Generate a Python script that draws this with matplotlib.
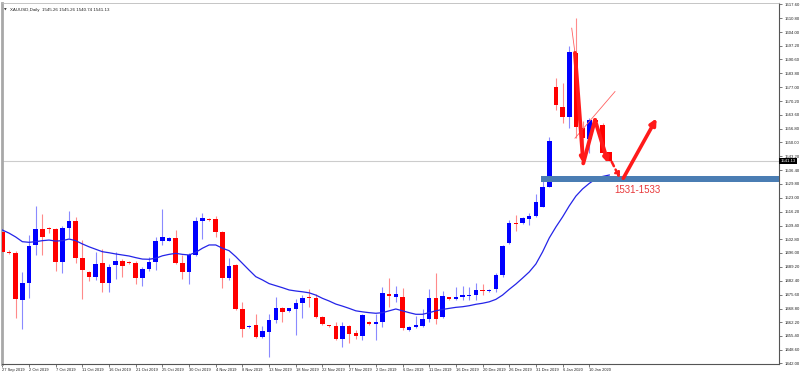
import matplotlib.pyplot as plt
from matplotlib.patches import Rectangle
import matplotlib.transforms as mtransforms

# ------------------------------------------------------------------
# Data (one bar per trading day, Sunday bars included)
# ------------------------------------------------------------------
opens = [1506.4, 1496.4, 1496.1, 1473.0, 1481.1, 1499.9, 1507.6, 1508.2, 1507.7, 1491.4,
         1508.0, 1511.6, 1493.4, 1486.5, 1484.1, 1490.9, 1481.4, 1490.1, 1492.2, 1491.6,
         1490.9, 1483.6, 1488.1, 1491.7, 1502.0, 1502.0, 1503.1, 1491.2, 1486.5, 1495.0,
         1511.8, 1512.4, 1512.4, 1506.1, 1483.9, 1489.9, 1468.4, 1460.0, 1460.7, 1455.0,
         1457.5, 1463.2, 1468.9, 1467.7, 1468.6, 1471.4, 1474.1, 1474.1, 1464.5, 1460.4,
         1460.3, 1453.8, 1460.3, 1456.7, 1455.5, 1462.4, 1461.2, 1462.4, 1475.9, 1474.6,
         1474.6, 1458.3, 1459.6, 1460.3, 1463.5, 1474.1, 1464.8, 1474.3, 1473.6, 1474.6,
         1475.1, 1475.4, 1477.7, 1477.4, 1478.2, 1485.2, 1500.7, 1510.6, 1510.5, 1512.6,
         1514.1, 1518.6, 1528.4, 1577.0, 1567.5, 1562.6, 1593.6, 1557.0, 1551.6, 1561.0,
         1558.6, 1545.26]
highs = [1508.2, 1497.4, 1496.9, 1486.8, 1504.8, 1518.9, 1515.0, 1508.7, 1508.2, 1509.2,
         1516.6, 1513.7, 1502.3, 1487.2, 1496.4, 1497.8, 1490.6, 1496.6, 1492.9, 1492.0,
         1492.2, 1489.3, 1494.2, 1503.9, 1517.5, 1503.8, 1507.2, 1495.0, 1496.0, 1513.7,
         1515.4, 1513.1, 1514.2, 1506.7, 1493.4, 1490.6, 1472.1, 1460.7, 1466.0, 1460.3,
         1466.0, 1474.3, 1469.5, 1469.3, 1473.5, 1475.4, 1478.4, 1475.9, 1465.1, 1460.7,
         1462.4, 1462.4, 1460.7, 1458.3, 1466.1, 1462.7, 1466.0, 1479.5, 1483.6, 1480.0,
         1478.7, 1460.3, 1465.1, 1468.4, 1478.2, 1486.3, 1477.5, 1474.7, 1479.5, 1480.0,
         1479.5, 1481.4, 1480.8, 1478.4, 1486.0, 1499.9, 1512.1, 1514.5, 1513.7, 1515.7,
         1524.7, 1533.6, 1552.8, 1581.4, 1579.3, 1597.4, 1610.8, 1560.7, 1561.8, 1562.0,
         1559.4, 1545.26]
lows = [1486.7, 1495.5, 1464.2, 1458.8, 1474.0, 1495.0, 1495.0, 1505.7, 1487.2, 1486.3,
        1503.1, 1491.1, 1473.5, 1482.4, 1482.8, 1476.9, 1476.9, 1483.1, 1484.4, 1490.6,
        1480.8, 1480.0, 1487.3, 1487.6, 1499.9, 1501.8, 1490.6, 1483.1, 1480.6, 1494.5,
        1502.7, 1511.6, 1503.9, 1478.7, 1482.8, 1468.1, 1455.0, 1459.5, 1454.4, 1454.4,
        1445.2, 1461.6, 1462.4, 1467.3, 1455.9, 1464.3, 1469.7, 1464.4, 1460.7, 1459.8,
        1453.4, 1449.8, 1452.1, 1453.8, 1453.4, 1460.7, 1453.4, 1459.6, 1469.7, 1472.1,
        1458.3, 1457.8, 1459.3, 1459.8, 1462.4, 1461.2, 1464.2, 1473.0, 1473.0, 1473.0,
        1473.0, 1473.0, 1475.4, 1476.9, 1477.0, 1484.1, 1500.4, 1506.7, 1510.1, 1509.7,
        1513.7, 1518.5, 1528.2, 1565.9, 1559.4, 1557.0, 1552.1, 1546.0, 1544.7, 1559.5,
        1543.4, 1540.74]
closes = [1496.3, 1495.9, 1473.3, 1481.1, 1499.5, 1507.6, 1503.9, 1507.7, 1491.4, 1508.0,
          1511.6, 1493.4, 1487.6, 1484.1, 1490.6, 1481.4, 1489.3, 1492.2, 1489.6, 1491.3,
          1483.6, 1488.1, 1491.7, 1502.0, 1503.6, 1503.1, 1491.2, 1486.8, 1495.0, 1511.6,
          1513.2, 1512.2, 1506.1, 1483.9, 1489.6, 1468.4, 1458.6, 1460.3, 1455.0, 1458.0,
          1463.2, 1468.9, 1467.0, 1468.9, 1471.4, 1474.1, 1473.8, 1464.8, 1461.2, 1460.1,
          1453.8, 1460.3, 1456.3, 1455.5, 1465.6, 1461.2, 1462.4, 1476.5, 1474.9, 1475.9,
          1459.1, 1459.9, 1460.7, 1463.5, 1474.1, 1463.5, 1474.9, 1473.5, 1474.6, 1475.3,
          1475.4, 1477.9, 1477.4, 1477.7, 1485.2, 1499.5, 1510.5, 1510.1, 1512.9, 1514.1,
          1520.8, 1528.1, 1550.7, 1568.3, 1562.6, 1594.1, 1557.4, 1552.1, 1561.0, 1560.0,
          1544.7, 1541.13]

# moving average line as shown on the chart
ma_line = [1507.2, 1505.7, 1503.8, 1501.5, 1501.2, 1501.5, 1502.0, 1502.3, 1501.8, 1502.0,
           1502.8, 1502.0, 1500.4, 1499.0, 1497.8, 1496.6, 1496.1, 1495.5, 1495.0, 1494.5,
           1493.7, 1493.0, 1492.9, 1493.4, 1494.6, 1495.3, 1495.8, 1495.3, 1495.0, 1496.3,
           1498.3, 1499.9, 1499.9, 1498.3, 1497.1, 1494.2, 1490.9, 1487.6, 1484.4, 1482.8,
           1481.0, 1480.0, 1479.0, 1477.9, 1477.4, 1477.0, 1476.5, 1475.4, 1473.8, 1472.5,
           1471.0, 1470.0, 1468.9, 1467.7, 1467.2, 1466.8, 1466.5, 1466.8, 1467.7, 1468.6,
           1467.7, 1466.8, 1466.0, 1466.0, 1466.8, 1467.7, 1468.4, 1468.9, 1469.4, 1469.7,
           1470.2, 1470.9, 1471.4, 1472.1, 1473.3, 1475.4, 1478.2, 1480.8, 1483.7, 1486.7,
           1490.6, 1496.5, 1503.3, 1508.7, 1513.6, 1519.0, 1523.8, 1527.3, 1530.0, 1532.2,
           1533.4, 1534.1]

date_labels = ["27 Sep 2019", "2 Oct 2019", "7 Oct 2019", "11 Oct 2019", "16 Oct 2019",
               "21 Oct 2019", "25 Oct 2019", "30 Oct 2019", "4 Nov 2019", "8 Nov 2019",
               "13 Nov 2019", "18 Nov 2019", "22 Nov 2019", "27 Nov 2019", "2 Dec 2019",
               "6 Dec 2019", "11 Dec 2019", "16 Dec 2019", "20 Dec 2019", "26 Dec 2019",
               "31 Dec 2019", "6 Jan 2020", "10 Jan 2020"]
price_ticks = [1617.60, 1610.80, 1604.00, 1597.20, 1590.60, 1583.80, 1577.00, 1570.20,
               1563.60, 1556.80, 1550.00, 1543.20, 1536.40, 1529.80, 1523.00, 1516.20,
               1509.40, 1502.80, 1496.00, 1489.20, 1482.40, 1475.60, 1468.80, 1462.20,
               1455.40, 1448.60, 1442.00]

last_price = 1541.13
header = "XAUUSD,Daily  1545.26 1545.26 1540.74 1541.13"

# support zone and hand drawn annotations (bar index, price)
zone_start = 80.8
zone_low, zone_high = 1530.8, 1533.6
zone_text = "1531-1533"
zigzag = [(85.86, 1593.8), (87.1, 1539.8), (88.86, 1561.0), (90.85, 1539.8)]
dash_arrow = [(91.36, 1540.6), (92.6, 1532.5)]
up_arrow = [(93.1, 1532.5), (98.1, 1561.8)]
thin_line = [(85.86, 1552.1), (91.86, 1574.9)]
thin_slant = [(85.37, 1605.9), (85.86, 1593.8)]

# ------------------------------------------------------------------
# Plot
# ------------------------------------------------------------------
plt.rcParams["font.family"] = ["Liberation Sans", "DejaVu Sans"]
fig = plt.figure(figsize=(8, 3.75), dpi=100)
ax = fig.add_axes([2 / 800, 11 / 375, 777 / 800, 361 / 375])

x_right = 116.45
ax.set_xlim(-0.05, x_right)
ax.set_ylim(1441.7, 1618.2)

# current price line
ax.axhline(last_price, color="#cccccc", lw=0.8, zorder=1)

up_col, dn_col = "#0000ff", "#ff0000"
for i, (o, h, l, c) in enumerate(zip(opens, highs, lows, closes)):
    bull = c >= o
    ax.vlines(i, l, h, color="#8a8aff" if bull else "#ff8a8a", lw=0.8, zorder=2)
    body = max(abs(c - o), 0.45)
    ax.bar(i, body, bottom=min(o, c), width=0.68,
           color=up_col if bull else dn_col, linewidth=0, zorder=3)

ax.plot(range(len(ma_line)), ma_line, color="#2424e8", lw=0.9, zorder=4)

# support zone
ax.add_patch(Rectangle((zone_start, zone_low), x_right - zone_start, zone_high - zone_low,
                       facecolor="#4a7db3", edgecolor="none", zorder=5))
ax.text(95.2, 1526.8, zone_text, color="#e8383a", fontsize=7, ha="center", va="center",
        zorder=6)

# red hand drawn arrows
red = "#ff1a1a"
ax.plot([p[0] for p in thin_line], [p[1] for p in thin_line], color="#ff6060", lw=0.6, zorder=6)
ax.plot([p[0] for p in thin_slant], [p[1] for p in thin_slant], color="#ff6060", lw=0.6, zorder=6)
for k in range(len(zigzag) - 1):
    style = "-|>" if k != 1 else "-"
    ax.annotate("", xy=zigzag[k + 1], xytext=zigzag[k],
                arrowprops=dict(arrowstyle=style, color=red, lw=2.8, mutation_scale=7,
                                shrinkA=0, shrinkB=0), zorder=7)
ax.annotate("", xy=dash_arrow[1], xytext=dash_arrow[0],
            arrowprops=dict(arrowstyle="-|>", color=red, lw=1.8, ls=(0, (2, 1.5)),
                            mutation_scale=7, shrinkA=0, shrinkB=0), zorder=7)
ax.annotate("", xy=up_arrow[1], xytext=up_arrow[0],
            arrowprops=dict(arrowstyle="-|>", color=red, lw=2.6, mutation_scale=9,
                            shrinkA=0, shrinkB=0), zorder=7)

# ------------------------------------------------------------------
# Axes formatting
# ------------------------------------------------------------------
ax.set_xticks(range(0, 4 * len(date_labels), 4))
ax.set_xticklabels(date_labels, ha="left", fontsize=2.9, color="#222222")
ax.tick_params(axis="x", length=2.0, width=0.5, pad=1.0, color="#444444")

ax.yaxis.tick_right()
ax.set_yticks(price_ticks)
ax.set_yticklabels([f"{p:.2f}" for p in price_ticks], fontsize=3.1, color="#222222")
ax.tick_params(axis="y", length=2.5, width=0.5, pad=1.2, color="#444444")

for side in ["right", "bottom"]:
    ax.spines[side].set_color("#555555")
    ax.spines[side].set_linewidth(0.8)
ax.spines["left"].set_color("#a8a8a8")
ax.spines["left"].set_linewidth(2)
ax.spines["top"].set_color("#bbbbbb")
ax.spines["top"].set_linewidth(0.6)

# black label of the last price on the price scale
trans = mtransforms.blended_transform_factory(ax.transAxes, ax.transData)
ax.text(1.002, last_price, f"{last_price:.2f}", transform=trans, fontsize=3.1,
        color="white", ha="left", va="center", zorder=8,
        bbox=dict(facecolor="black", edgecolor="none", pad=0.8))

fig.text(0.005, 0.972, "\u25bc", fontsize=2.5, color="#333333", family="DejaVu Sans")
fig.text(0.012, 0.972, header, fontsize=3.2, color="#222222")

plt.savefig("out.png", dpi=100)
plt.close()
